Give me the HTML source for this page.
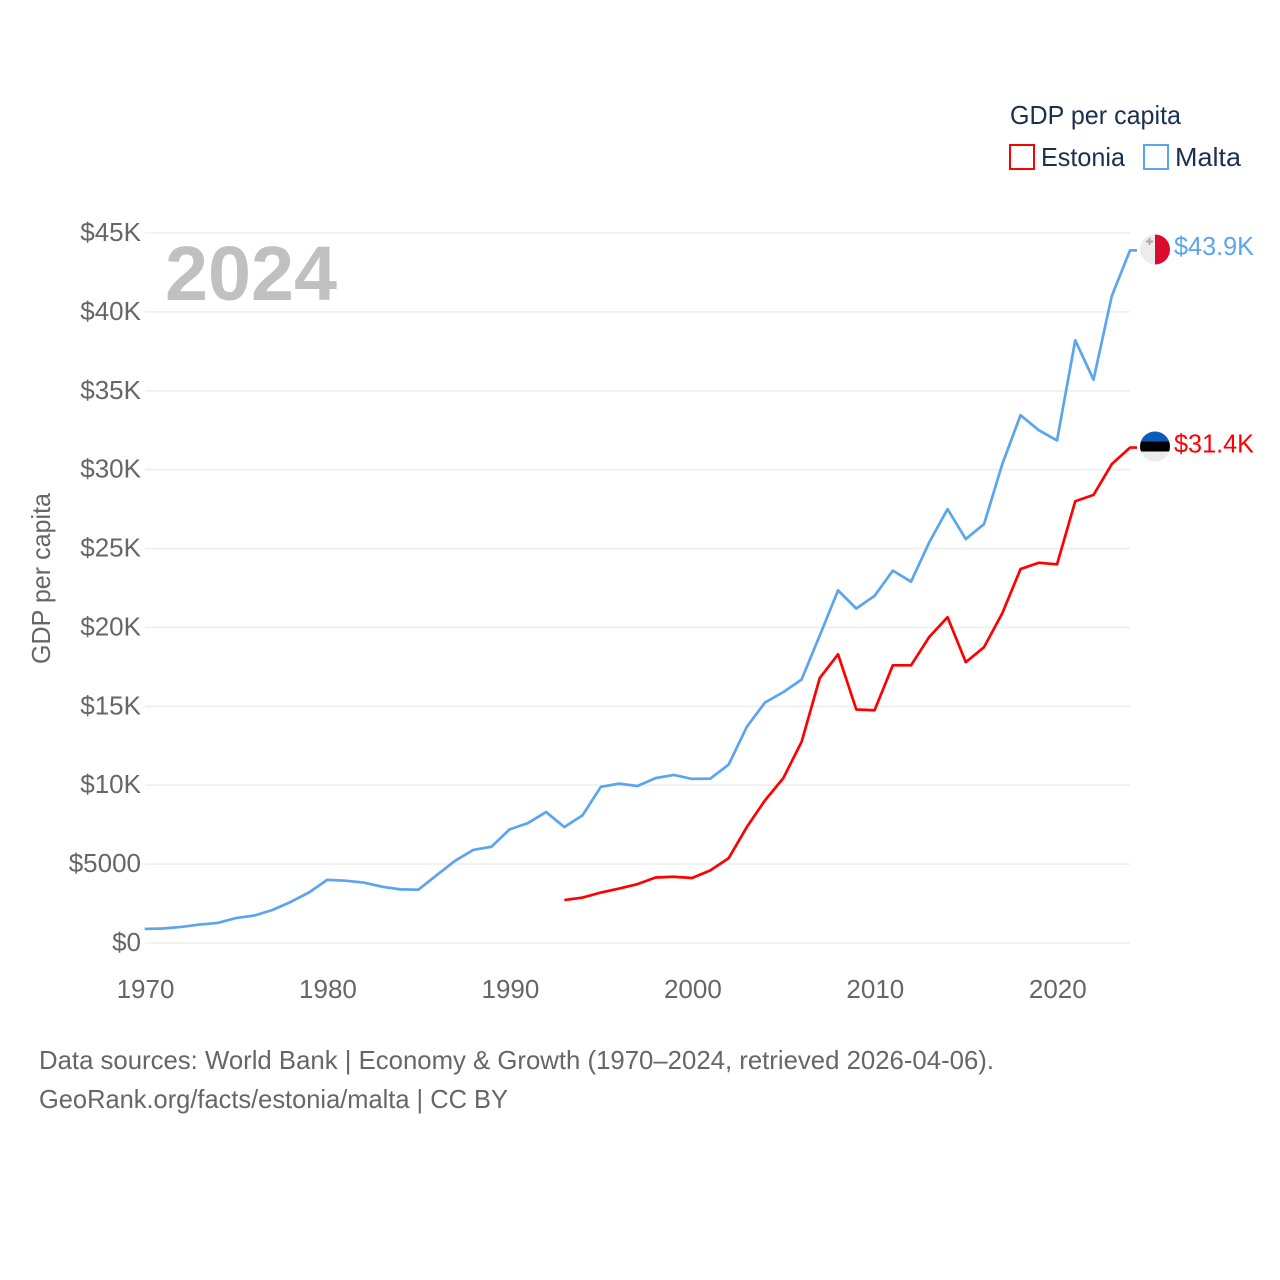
<!DOCTYPE html>
<html lang="en">
<head>
<meta charset="utf-8">
<title>GDP per capita: Estonia and Malta</title>
<style>
html,body{margin:0;padding:0;background:#fff;width:1280px;height:1280px;overflow:hidden}
svg{display:block}
text{font-family:"Liberation Sans",sans-serif}
.t{fill:#666;font-size:26px}
.n{fill:#1a3050;font-size:26px}
</style>
</head>
<body>
<svg id="chart" width="1280" height="1280" viewBox="0 0 1280 1280" xmlns="http://www.w3.org/2000/svg">
<g id="grid"></g>
<g id="yaxis"></g>
<g id="xaxis"></g>
<g id="series"></g>
<text x="165" y="300" font-size="77" font-weight="700" fill="#c0c0c0" textLength="172" lengthAdjust="spacingAndGlyphs">2024</text>
<text class="t" transform="translate(50,664) rotate(-90)" textLength="171" lengthAdjust="spacingAndGlyphs">GDP per capita</text>
<text class="n" x="1010" y="124" textLength="171" lengthAdjust="spacingAndGlyphs">GDP per capita</text>
<g>
<rect x="1010" y="145" width="24" height="24" fill="none" stroke="#ff0000" stroke-width="2"/>
<text class="n" x="1041" y="166" textLength="84" lengthAdjust="spacingAndGlyphs">Estonia</text>
</g>
<g>
<rect x="1144" y="145" width="24" height="24" fill="none" stroke="#5ba4ee" stroke-width="2"/>
<text class="n" x="1175" y="166" textLength="66" lengthAdjust="spacingAndGlyphs">Malta</text>
</g>
<defs>
<clipPath id="clip-mt"><circle cx="1155" cy="249.500" r="15"/></clipPath>
<clipPath id="clip-ee"><circle cx="1155" cy="446.500" r="15"/></clipPath>
</defs>
<g clip-path="url(#clip-mt)">
<rect x="1140" y="234" width="15" height="31" fill="#ececec"/>
<rect x="1155" y="234" width="15" height="31" fill="#dc0a2c"/>
<path d="M1149.500 238v7M1146 241.500h7" stroke="#a8a8a8" stroke-width="2"/>
</g>
<g clip-path="url(#clip-ee)">
<rect x="1140" y="431" width="30" height="10.500" fill="#0b5cb8"/>
<rect x="1140" y="441.500" width="30" height="10" fill="#000"/>
<rect x="1140" y="451.500" width="30" height="10" fill="#ececec"/>
</g>
<text x="1174" y="255" font-size="26" fill="#5ba4ee" textLength="80" lengthAdjust="spacingAndGlyphs">$43.9K</text>
<text x="1174" y="452.500" font-size="26" fill="#ff0000" textLength="80" lengthAdjust="spacingAndGlyphs">$31.4K</text>
<text class="t" x="39" y="1069" textLength="955" lengthAdjust="spacingAndGlyphs">Data sources: World Bank | Economy &amp; Growth (1970–2024, retrieved 2026-04-06).</text>
<a><text class="t" x="39" y="1108" textLength="469" lengthAdjust="spacingAndGlyphs">GeoRank.org/facts/estonia/malta | CC BY</text></a>
</svg>
<script>
const years = [1970,1971,1972,1973,1974,1975,1976,1977,1978,1979,1980,1981,1982,1983,1984,1985,1986,1987,1988,1989,1990,1991,1992,1993,1994,1995,1996,1997,1998,1999,2000,2001,2002,2003,2004,2005,2006,2007,2008,2009,2010,2011,2012,2013,2014,2015,2016,2017,2018,2019,2020,2021,2022,2023,2024];
const maltaValues = [0.89,0.92,1.02,1.17,1.27,1.58,1.74,2.09,2.6,3.2,4.0,3.95,3.83,3.57,3.4,3.38,4.3,5.2,5.9,6.1,7.2,7.6,8.3,7.35,8.1,9.9,10.1,9.95,10.45,10.65,10.4,10.42,11.3,13.7,15.25,15.9,16.7,19.5,22.35,21.2,22.0,23.6,22.9,25.4,27.5,25.6,26.55,30.35,33.45,32.5,31.85,38.2,35.7,41.0,43.9];
const estoniaYears = [1993,1994,1995,1996,1997,1998,1999,2000,2001,2002,2003,2004,2005,2006,2007,2008,2009,2010,2011,2012,2013,2014,2015,2016,2017,2018,2019,2020,2021,2022,2023,2024];
const estoniaValues = [2.72,2.88,3.2,3.45,3.73,4.15,4.2,4.12,4.6,5.37,7.35,9.05,10.45,12.75,16.8,18.3,14.8,14.75,17.6,17.6,19.4,20.65,17.8,18.75,20.9,23.7,24.1,24.0,28.0,28.4,30.35,31.4];
const yTicks = [0,5,10,15,20,25,30,35,40,45];
const yTickLabels = ["$0","$5000","$10K","$15K","$20K","$25K","$30K","$35K","$40K","$45K"];
const xTicks = [1970,1980,1990,2000,2010,2020];

const NS = 'http://www.w3.org/2000/svg';
const xScale = function (year) { return 144.7 + (year - 1970) * (1130 - 144.7) / 54; };
const yScale = function (value) { return 943 - value * (943 - 233) / 45; };

const grid = document.getElementById('grid');
const yaxis = document.getElementById('yaxis');
const xaxis = document.getElementById('xaxis');
const series = document.getElementById('series');

yTicks.forEach(function (v, i) {
  const line = document.createElementNS(NS, 'line');
  
  
  line.setAttribute('x1', 145);
  line.setAttribute('x2', 1130);
  line.setAttribute('y1', yScale(v));
  line.setAttribute('y2', yScale(v));
  line.setAttribute('stroke', '#eeeeee');
  line.setAttribute('stroke-width', 1.6);
  grid.appendChild(line);
  const label = document.createElementNS(NS, 'text');
  
  
  label.setAttribute('class', 't');
  label.setAttribute('x', 141);
  label.setAttribute('y', yScale(v) + 8);
  label.setAttribute('text-anchor', 'end');
  label.textContent = yTickLabels[i];
  yaxis.appendChild(label);
});

xTicks.forEach(function (year) {
  const label = document.createElementNS(NS, 'text');
  
  
  label.setAttribute('class', 't');
  label.setAttribute('x', xScale(year) + 0.8);
  label.setAttribute('y', 998);
  label.setAttribute('text-anchor', 'middle');
  label.textContent = year;
  xaxis.appendChild(label);
});

function linePath(xs, vs) {
  let d = '';
  xs.forEach(function (x, i) {
    d += (i ? 'L' : 'M') + xScale(x).toFixed(2) + ' ' + yScale(vs[i]).toFixed(2);
  });
  const last = vs[vs.length - 1];
  return d + 'L1137 ' + yScale(last).toFixed(2);
}

const maltaLine = document.createElementNS(NS, 'path');


maltaLine.setAttribute('d', linePath(years, maltaValues));
maltaLine.setAttribute('fill', 'none');
maltaLine.setAttribute('stroke', '#5ba4ee');
maltaLine.setAttribute('stroke-width', 2.7);
maltaLine.setAttribute('stroke-linejoin', 'round');
series.appendChild(maltaLine);

const estoniaLine = document.createElementNS(NS, 'path');


estoniaLine.setAttribute('d', linePath(estoniaYears, estoniaValues));
estoniaLine.setAttribute('fill', 'none');
estoniaLine.setAttribute('stroke', '#ff0000');
estoniaLine.setAttribute('stroke-width', 2.7);
estoniaLine.setAttribute('stroke-linejoin', 'round');
series.appendChild(estoniaLine);
</script>
</body>
</html>
